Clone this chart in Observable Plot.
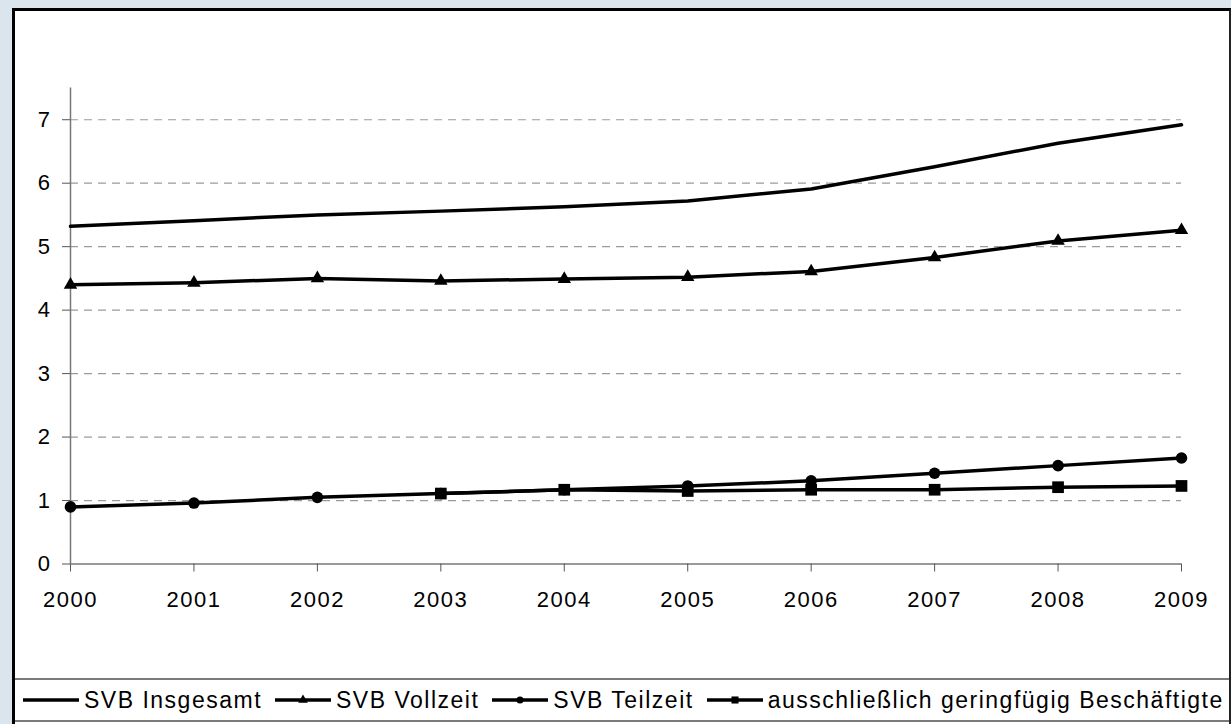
<!DOCTYPE html>
<html>
<head>
<meta charset="utf-8">
<script src="https://cdn.jsdelivr.net/npm/d3@7"></script>
<script src="https://cdn.jsdelivr.net/npm/@observablehq/plot@0.6"></script>
<style>
  html, body { margin: 0; padding: 0; background: #dbe5ee; width: 1231px; height: 724px; overflow: hidden; }
  #frame {
    position: absolute; left: 12px; top: 8px; width: 1214px; height: 740px;
    background: #fff; border-left: 3px solid #000; border-top: 3px solid #000; border-right: 2px solid #222;
    font-family: "Liberation Sans", Arial, sans-serif;
  }
  #legend {
    display: flex; align-items: center; height: 40px;
    border-top: 2px solid #7a7a7a; border-bottom: 2px solid #7a7a7a;
    padding-left: 7px; font-size: 23px; letter-spacing: 1.5px; color: #000; white-space: nowrap;
  }
  #legend .item { display: flex; align-items: center; margin-right: 12px; }
  #legend svg { margin-right: 4px; }
</style>
</head>
<body>
<div id="frame"><div id="chart"></div><div id="legend"></div></div>
<script>
const years = [2000, 2001, 2002, 2003, 2004, 2005, 2006, 2007, 2008, 2009];
const insgesamt = [5.32, 5.41, 5.50, 5.56, 5.63, 5.72, 5.91, 6.26, 6.63, 6.92];
const vollzeit = [4.40, 4.43, 4.50, 4.46, 4.49, 4.52, 4.61, 4.83, 5.09, 5.26];
const teilzeit = [0.90, 0.96, 1.05, 1.11, 1.17, 1.23, 1.31, 1.43, 1.55, 1.67];
const geringfuegig = [null, null, null, 1.11, 1.17, 1.15, 1.17, 1.17, 1.21, 1.23];
const yTicks = [0, 1, 2, 3, 4, 5, 6, 7];
const gridTicks = [1, 2, 3, 4, 5, 6, 7];

const seriesNames = ["SVB Insgesamt", "SVB Vollzeit", "SVB Teilzeit", "ausschließlich geringfügig Beschäftigte"];
const seriesValues = [insgesamt, vollzeit, teilzeit, geringfuegig];
const seriesSymbols = [null, "triangle", "circle", "square"];
const symbolR = {triangle: 5, circle: 5.8, square: 6.6};

const rows = seriesNames.map((name, i) =>
  years.map((year, j) => ({series: name, year, value: seriesValues[i][j]})).filter(d => d.value != null));

const marks = [
  Plot.ruleY(gridTicks, {x1: years[0], x2: years[years.length - 1], stroke: "#9a9a9a", strokeWidth: 1.2, strokeDasharray: "8,6"}),
  Plot.ruleX([years[0]], {y1: 0, y2: 7.5, stroke: "#777", strokeWidth: 1.5}),
  Plot.ruleY([0], {x1: years[0], x2: years[years.length - 1], stroke: "#777", strokeWidth: 1.5}),
  Plot.axisY({ticks: yTicks, tickSize: 8, tickPadding: 11, stroke: "#555", fill: "#000", tickFormat: d => String(d), label: null}),
  Plot.axisX({ticks: years, tickSize: 8, tickPadding: 19, stroke: "#555", fill: "#000", tickFormat: d => String(d), label: null})
];
rows.forEach((data, i) => {
  marks.push(Plot.line(data, {x: "year", y: "value", stroke: "#000", strokeWidth: 3.5}));
  if (seriesSymbols[i]) {
    marks.push(Plot.dot(data, {x: "year", y: "value", symbol: seriesSymbols[i], r: symbolR[seriesSymbols[i]], fill: "#000", stroke: "none"}));
  }
});

const chart = Plot.plot({
  width: 1214, height: 667,
  marginLeft: 55, marginRight: 48, marginTop: 76.5, marginBottom: 114.5,
  x: {domain: [years[0], years[years.length - 1]], label: null},
  y: {domain: [0, 7.5], label: null},
  style: {fontFamily: "'Liberation Sans', Arial, sans-serif", fontSize: "22px", letterSpacing: "1.5px", color: "#000", background: "transparent"},
  marks
});
document.getElementById("chart").appendChild(chart);

// legend
const legend = d3.select("#legend");
seriesNames.forEach((name, i) => {
  const item = legend.append("div").attr("class", "item");
  const svg = item.append("svg").attr("width", 58).attr("height", 16);
  svg.append("line").attr("x1", 1).attr("x2", 57).attr("y1", 8).attr("y2", 8).attr("stroke", "#000").attr("stroke-width", 3.5);
  const s = seriesSymbols[i];
  if (s) {
    const type = {triangle: d3.symbolTriangle, circle: d3.symbolCircle, square: d3.symbolSquare}[s];
    const size = {triangle: 40, circle: 40, square: 50}[s];
    svg.append("path").attr("d", d3.symbol(type, size)()).attr("transform", "translate(29,8)").attr("fill", "#000");
  }
  item.append("span").text(name);
});
</script>
</body>
</html>
